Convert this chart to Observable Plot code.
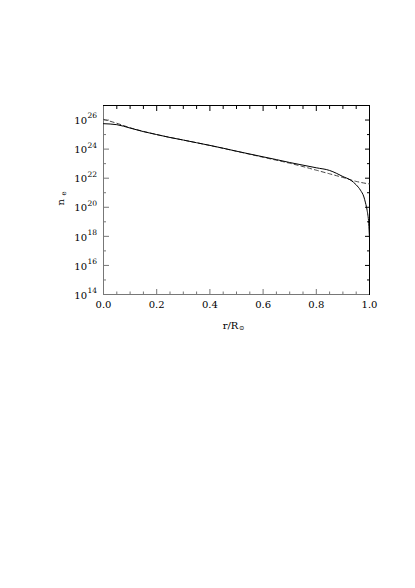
<!DOCTYPE html>
<html><head><meta charset="utf-8">
<script src="https://cdn.jsdelivr.net/npm/d3@7"></script>
<script src="https://cdn.jsdelivr.net/npm/@observablehq/plot@0.6"></script>
<style>body{margin:0;background:#fff}</style>
</head><body><div id="chart"></div>
<script>
// solid curve: electron density model
const rSolid = [0, 0.05, 0.1, 0.15, 0.2, 0.25, 0.3, 0.35, 0.4, 0.45, 0.5, 0.55, 0.6, 0.65, 0.7, 0.75, 0.8, 0.85, 0.875, 0.9, 0.93, 0.95, 0.966, 0.979, 0.985, 0.991, 0.997, 1.0];
const neSolid = [5.6e25, 4.8e25, 2.8e25, 1.6e25, 1.0e25, 6.3e24, 4.2e24, 2.75e24, 1.8e24, 1.15e24, 7.2e23, 4.6e23, 2.95e23, 1.9e23, 1.2e23, 7.9e22, 5.2e22, 3.4e22, 2.2e22, 1.3e22, 7.2e21, 3.5e21, 1.5e21, 5.1e20, 2.0e20, 6.2e19, 7.9e18, 7.9e17];
// dashed curve: fit
const rDashed = [0, 0.05, 0.1, 0.15, 0.2, 0.3, 0.4, 0.5, 0.6, 0.7, 0.75, 0.8, 0.85, 0.9, 0.95, 1.0];
const neDashed = [1.12e26, 6.0e25, 2.95e25, 1.66e25, 1.0e25, 4.2e24, 1.78e24, 7.1e23, 2.75e23, 1.07e23, 6.3e22, 3.55e22, 2.0e22, 1.12e22, 6.0e21, 4.0e21];

const xMajorTicks = [0, 0.2, 0.4, 0.6, 0.8, 1.0];
const xTickLabels = ["0.0", "0.2", "0.4", "0.6", "0.8", "1.0"];
const xMinorTicks = [0.05, 0.1, 0.15, 0.25, 0.3, 0.35, 0.45, 0.5, 0.55, 0.65, 0.7, 0.75, 0.85, 0.9, 0.95];
const yMajorTicks = [1e14, 1e16, 1e18, 1e20, 1e22, 1e24, 1e26];
const yExponents = ["14", "16", "18", "20", "22", "24", "26"];
const yMinorTicks = [1e15, 1e17, 1e19, 1e21, 1e23, 1e25];

const solid = rSolid.map((r, i) => ({r, ne: neSolid[i]}));
const dashed = rDashed.map((r, i) => ({r, ne: neDashed[i]}));
const yLab = yMajorTicks.map((v, i) => ({v, e: yExponents[i]}));
const xLab = xMajorTicks.map((v, i) => ({v, t: xTickLabels[i]}));

const font = "DejaVu Serif";
const grey = "#777";
const ax = (ticks, anchor, size, stroke) =>
  (anchor === "left" || anchor === "right" ? Plot.axisY : Plot.axisX)(ticks, {
    anchor, tickSize: -size, tickFormat: () => "", label: null, stroke
  });

const chart = Plot.plot({
  width: 415, height: 588,
  marginLeft: 103, marginRight: 46, marginTop: 105, marginBottom: 294,
  style: {fontFamily: font, background: "#fff", color: "#000", fontSize: "10px"},
  x: {domain: [0, 1], axis: null},
  y: {type: "log", domain: [1e14, 1e27], axis: null},
  marks: [
    ax(xMajorTicks, "bottom", 5, grey),
    ax(xMinorTicks, "bottom", 2.5, grey),
    ax(xMajorTicks, "top", 5, "#000"),
    ax(xMinorTicks, "top", 3, "#000"),
    ax(yMajorTicks, "left", 6, grey),
    ax(yMinorTicks, "left", 3, grey),
    ax(yMajorTicks, "right", 5, "#000"),
    ax(yMinorTicks, "right", 3, "#000"),
    Plot.ruleX([0], {stroke: grey}),
    Plot.ruleY([1e14], {stroke: grey}),
    Plot.ruleX([1], {stroke: "#000"}),
    Plot.ruleY([1e27], {stroke: "#000"}),
    Plot.line(dashed, {x: "r", y: "ne", stroke: "#444", strokeWidth: 1, strokeDasharray: "4,3", curve: "monotone-x"}),
    Plot.line(solid, {x: "r", y: "ne", stroke: "#000", strokeWidth: 1, curve: "monotone-x"}),
    Plot.text(yLab, {y: "v", frameAnchor: "left", text: () => "10", textAnchor: "end", dx: -16.5, dy: 1, fontSize: 10, fill: "#000"}),
    Plot.text(yLab, {y: "v", frameAnchor: "left", text: "e", textAnchor: "start", dx: -16, dy: -4, fontSize: 7.5, fill: "#000"}),
    Plot.text(xLab, {x: "v", frameAnchor: "bottom", text: "t", dy: 13, fontSize: 10, fill: "#000"}),
    Plot.text(["r/R"], {frameAnchor: "bottom", text: d => d, dx: -6, dy: 34, fontSize: 10, fill: "#000"}),
    Plot.text(["\u2299"], {frameAnchor: "bottom", text: d => d, textAnchor: "start", dx: 2.5, dy: 35.5, fontSize: 6.5, fill: "#000"}),
    Plot.text(["n"], {frameAnchor: "left", text: d => d, rotate: -90, dx: -43, dy: 5.5, fontSize: 10, fill: "#000"}),
    Plot.text(["e"], {frameAnchor: "left", text: d => d, rotate: -90, dx: -39.5, dy: -4.5, fontSize: 7, fill: "#000"})
  ]
});
document.getElementById("chart").appendChild(chart);
</script>
</body></html>
